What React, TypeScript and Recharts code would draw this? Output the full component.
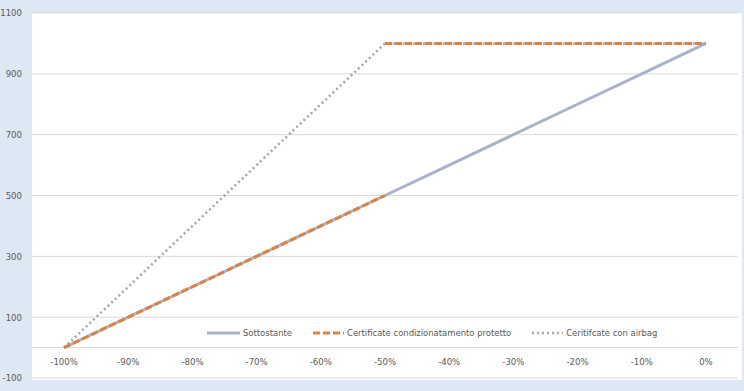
import React from "react";
import { LineChart, Line, XAxis, YAxis, CartesianGrid, ReferenceLine } from "recharts";

const xPercent = [-100, -90, -80, -70, -60, -50, -40, -30, -20, -10, 0];
const sottostante = [0, 100, 200, 300, 400, 500, 600, 700, 800, 900, 1000];
const airbag = [0, 200, 400, 600, 800, 1000, 1000, 1000, 1000, 1000, 1000];
const protettoX1 = [-100, -90, -80, -70, -60, -50];
const protettoBasso = [0, 100, 200, 300, 400, 500];
const protettoX2 = [-50, -40, -30, -20, -10, 0];
const protettoAlto = [1000, 1000, 1000, 1000, 1000, 1000];
const yTicks = [-100, 100, 300, 500, 700, 900, 1100];

const seriesNames = ["Sottostante", "Certificate condizionatamento protetto", "Ceritifcate con airbag"];

const dataSott = xPercent.map((x, i) => ({ x, v: sottostante[i] }));
const dataAir = xPercent.map((x, i) => ({ x, v: airbag[i] }));
const dataP1 = protettoX1.map((x, i) => ({ x, v: protettoBasso[i] }));
const dataP2 = protettoX2.map((x, i) => ({ x, v: protettoAlto[i] }));

const FONT = "'Liberation Sans Narrow', 'DejaVu Sans Condensed', 'Liberation Sans', sans-serif";
const TEXT = "#595959";
const GRAY = "#a9b3ca";
const ORANGE = "#e0813f";
const DOT = "#a6a6a6";

const XTick = (props: any) => {
  const { x, y, payload } = props;
  return (
    <text x={x} y={y - 13} textAnchor="middle" fill={TEXT} fontSize={9.5} fontFamily={FONT}>
      {payload.value}%
    </text>
  );
};

const LegendContent = () => {
  const items = [
    { name: seriesNames[0], stroke: GRAY, dash: undefined, w: 3, len: 33 },
    { name: seriesNames[1], stroke: ORANGE, dash: "7 3", w: 3, len: 31 },
    { name: seriesNames[2], stroke: DOT, dash: "2 3", w: 2.5, len: 31 },
  ];
  return (
    <div style={{ display: "flex", alignItems: "center", fontFamily: FONT, fontSize: 9.4, color: TEXT }}>
      {items.map((it, i) => (
        <div key={i} style={{ display: "flex", alignItems: "center", marginRight: 21 }}>
          <svg width={it.len} height={6} style={{ marginRight: 3 }}>
            <line x1={0} y1={3} x2={it.len} y2={3} stroke={it.stroke} strokeWidth={it.w} strokeDasharray={it.dash} />
          </svg>
          <span>{it.name}</span>
        </div>
      ))}
    </div>
  );
};

export default function App() {
  return (
    <div style={{ position: "absolute", left: 0, top: 0, width: 744, height: 391, background: "#dde8f5" }}>
      <div style={{ position: "absolute", left: 32, top: 13, width: 710, height: 367, background: "#ffffff" }} />
      <div style={{ position: "absolute", left: 0, top: 0 }}>
        <LineChart width={744} height={391} margin={{ top: 13, right: 6, bottom: 12, left: 0 }}>
          <CartesianGrid horizontal vertical={false} stroke="#d9d9d9" strokeWidth={1} />
          <XAxis
            type="number"
            dataKey="x"
            domain={[-105, 5]}
            ticks={xPercent}
            axisLine={false}
            tickLine={false}
            tickSize={0}
            tickMargin={0}
            height={1}
            tick={<XTick />}
            allowDuplicatedCategory={false}
          />
          <YAxis
            type="number"
            domain={[-100, 1100]}
            ticks={yTicks}
            width={32}
            axisLine={false}
            tickLine={false}
            tickSize={0}
            tickMargin={10}
            interval={0}
            tick={{ fill: TEXT, fontSize: 9.5, fontFamily: FONT }}
          />
          <ReferenceLine y={0} stroke="#d9d9d9" strokeWidth={1} />
          <Line data={dataSott} dataKey="v" stroke={GRAY} strokeWidth={3} dot={false} isAnimationActive={false} name={seriesNames[0]} />
          <Line data={dataAir} dataKey="v" stroke={DOT} strokeWidth={2.5} strokeDasharray="2 3" dot={false} isAnimationActive={false} name={seriesNames[2]} />
          <Line data={dataP1} dataKey="v" stroke={ORANGE} strokeWidth={3} strokeDasharray="7 3" dot={false} isAnimationActive={false} name={seriesNames[1]} />
          <Line data={dataP2} dataKey="v" stroke={ORANGE} strokeWidth={3} strokeDasharray="7 3" dot={false} isAnimationActive={false} legendType="none" />
        </LineChart>
      </div>
      <div style={{ position: "absolute", left: 207, top: 327 }}>
        <LegendContent />
      </div>
    </div>
  );
}
